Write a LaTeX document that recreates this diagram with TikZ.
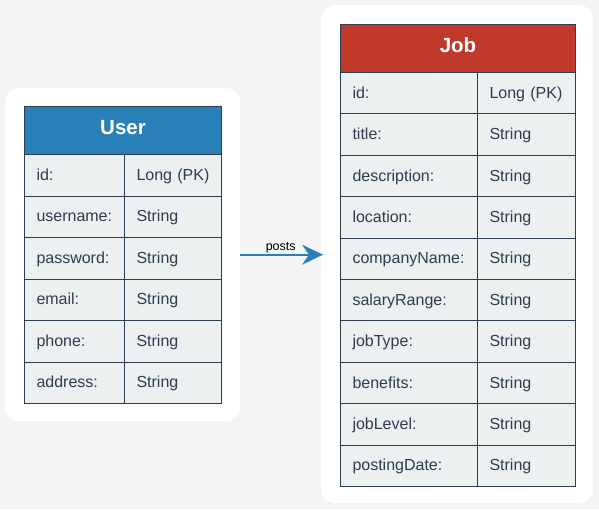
\documentclass[tikz,border=0pt]{standalone}
\usepackage{fontspec}
\setmainfont{Liberation Sans}
\usetikzlibrary{arrows.meta}
\definecolor{bg}{HTML}{F4F4F4}
\definecolor{ink}{HTML}{2C3E50}
\definecolor{rowfill}{HTML}{ECF0F1}
\definecolor{userblue}{HTML}{2980B9}
\definecolor{jobred}{HTML}{C0392B}
\tikzset{
  container/.style={fill=white, draw=none, rounded corners=14pt, anchor=north west, inner sep=0pt},
  cell/.style={draw=ink, line width=1pt, fill=rowfill, anchor=north west, inner xsep=12pt, inner ysep=0pt, align=left, text=ink, text height=12pt, text depth=2pt, font=\fontsize{16}{19}\selectfont},
  header/.style={draw=ink, line width=1pt, anchor=north west, inner sep=0pt, text=white, text height=15pt, text depth=6.5pt, font=\fontsize{20.5}{24}\selectfont\bfseries},
  rel/.style={draw=userblue, line width=2pt, shorten >=-2pt, -{Stealth[length=21pt, width=20pt, inset=7pt]}},
  rellabel/.style={font=\fontsize{12.5}{15}\selectfont, text=black, inner sep=1pt}
}
\begin{document}
\begin{tikzpicture}[x=1pt,y=-1pt]
\useasboundingbox (0,0) rectangle (599,509);
\fill[bg] (0,0) rectangle (599,509);
% containers
\node[container, minimum width=235pt, minimum height=333pt] (ucont) at (5,88) {};
\node[container, minimum width=272pt, minimum height=498pt] (jcont) at (321,5) {};
% User table
\node[header, fill=userblue, minimum width=197pt, minimum height=48pt] (uhead) at (24,106) {User};
\foreach \lab/\val [count=\i from 0] in {id:/Long (PK), username:/String, password:/String, email:/String, phone:/String, address:/String}{
  \node[cell, text width=76pt, minimum height=41.5pt] (ul\i) at (24,154+\i*41.5) {\lab};
  \node[cell, text width=73pt, minimum height=41.5pt] (uv\i) at (124,154+\i*41.5) {\val};
}
% Job table
\node[header, fill=jobred, minimum width=235pt, minimum height=48pt] (jhead) at (340,24) {Job};
\foreach \lab/\val [count=\i from 0] in {id:/Long (PK), title:/String, description:/String, location:/String, companyName:/String, salaryRange:/String, jobType:/String, benefits:/String, jobLevel:/String, postingDate:/String}{
  \node[cell, text width=113pt, minimum height=41.4pt] (jl\i) at (340,72+\i*41.4) {\lab};
  \node[cell, text width=74pt, minimum height=41.4pt] (jv\i) at (477,72+\i*41.4) {\val};
}
% relation
\draw[rel] (ucont.east) -- node[rellabel, above=0pt] (plabel) {posts} (jcont.west |- ucont.east);
\end{tikzpicture}
\end{document}
